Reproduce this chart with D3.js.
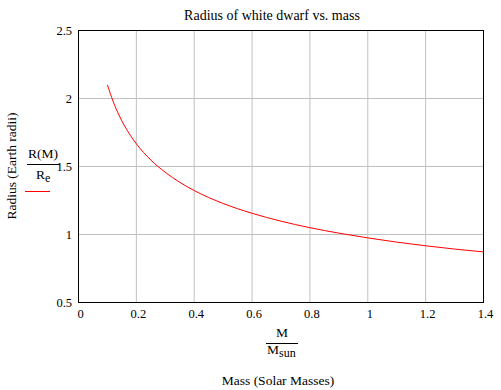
<!DOCTYPE html>
<html>
<head>
<meta charset="utf-8">
<script src="https://cdn.jsdelivr.net/npm/d3@7"></script>
<style>
  body{margin:0;background:#fff;}
  text{font-family:"Liberation Serif","Times New Roman",serif;fill:#000;}
</style>
</head>
<body>
<svg id="main"></svg>
<script>
//--------data----------
// mass (solar masses) and radius (earth radii)
const mass   = [0.1, 0.12, 0.14, 0.16, 0.18, 0.2, 0.25, 0.3, 0.35, 0.4, 0.5, 0.6, 0.7, 0.8, 0.9, 1.0, 1.1, 1.2, 1.3, 1.4];
const radius = [2.10, 1.977, 1.878, 1.796, 1.727, 1.667, 1.548, 1.457, 1.384, 1.323, 1.228, 1.156, 1.098, 1.050, 1.010, 0.975, 0.944, 0.917, 0.893, 0.872];
const xTicks = [0, 0.2, 0.4, 0.6, 0.8, 1, 1.2, 1.4];
const yTicks = [0.5, 1, 1.5, 2, 2.5];

//--------code----------
const width = 501, height = 390;
const svg = d3.select('#main').attr('width', width).attr('height', height);

const sx = d3.scaleLinear().domain([0, 1.4]).range([78.5, 483.5]);
const sy = d3.scaleLinear().domain([0.5, 2.5]).range([302.5, 30.5]);

// grid
svg.append('g')
  .selectAll('line.gx')
  .data(xTicks.slice(1, -1))
  .join('line')
  .attr('x1', d=>sx(d)).attr('x2', d=>sx(d))
  .attr('y1', sy(0.5)).attr('y2', sy(2.5))
  .attr('stroke', '#c0c0c0');
svg.append('g')
  .selectAll('line.gy')
  .data(yTicks.slice(1, -1))
  .join('line')
  .attr('x1', sx(0)).attr('x2', sx(1.4))
  .attr('y1', d=>sy(d)).attr('y2', d=>sy(d))
  .attr('stroke', '#c0c0c0');

// frame
svg.append('rect')
  .attr('x', sx(0)).attr('y', sy(2.5))
  .attr('width', sx(1.4)-sx(0)).attr('height', sy(0.5)-sy(2.5))
  .attr('fill', 'none').attr('stroke', '#000');

// tick labels
svg.append('g')
  .selectAll('text')
  .data(xTicks)
  .join('text')
  .attr('x', d=>sx(d)+2).attr('y', 318)
  .attr('text-anchor', 'middle')
  .style('font-size', '12.5px')
  .text(d=>d);
svg.append('g')
  .selectAll('text')
  .data(yTicks)
  .join('text')
  .attr('x', 72).attr('y', d=>sy(d)+4)
  .attr('text-anchor', 'end')
  .style('font-size', '12.5px')
  .text(d=>d);

// curve
const line = d3.line()
  .x((d,i)=>sx(mass[i]))
  .y(d=>sy(d))
  .curve(d3.curveMonotoneX);
svg.append('path')
  .datum(radius)
  .attr('d', line)
  .attr('fill', 'none')
  .attr('stroke', '#ff0000')
  .attr('stroke-width', 1);

// title
svg.append('text')
  .attr('x', 272).attr('y', 20)
  .attr('text-anchor', 'middle')
  .style('font-size', '14px')
  .text('Radius of white dwarf vs. mass');

// y label
svg.append('text')
  .attr('transform', 'translate(16,166) rotate(-90)')
  .attr('text-anchor', 'middle')
  .style('font-size', '13.5px')
  .text('Radius (Earth radii)');

// y fraction R(M)/Re
svg.append('text').attr('x', 43).attr('y', 158).attr('text-anchor', 'middle')
  .style('font-size', '13.5px').text('R(M)');
svg.append('line').attr('x1', 27).attr('x2', 60).attr('y1', 164.5).attr('y2', 164.5)
  .attr('stroke', '#000');
const re = svg.append('text').attr('x', 36).attr('y', 179).style('font-size', '13.5px');
re.append('tspan').text('R');
re.append('tspan').attr('dy', 3).style('font-size', '12px').text('e');
svg.append('line').attr('x1', 25).attr('x2', 50).attr('y1', 191.5).attr('y2', 191.5)
  .attr('stroke', '#ff0000');

// x fraction M/Msun
svg.append('text').attr('x', 282).attr('y', 337).attr('text-anchor', 'middle')
  .style('font-size', '13.5px').text('M');
svg.append('line').attr('x1', 266).attr('x2', 298).attr('y1', 343.5).attr('y2', 343.5)
  .attr('stroke', '#000');
const ms = svg.append('text').attr('x', 267).attr('y', 354).style('font-size', '13.5px');
ms.append('tspan').text('M');
ms.append('tspan').attr('dy', 3).style('font-size', '12px').text('sun');

svg.append('text')
  .attr('x', 278).attr('y', 385)
  .attr('text-anchor', 'middle')
  .style('font-size', '13.5px')
  .text('Mass (Solar Masses)');
</script>
</body>
</html>
